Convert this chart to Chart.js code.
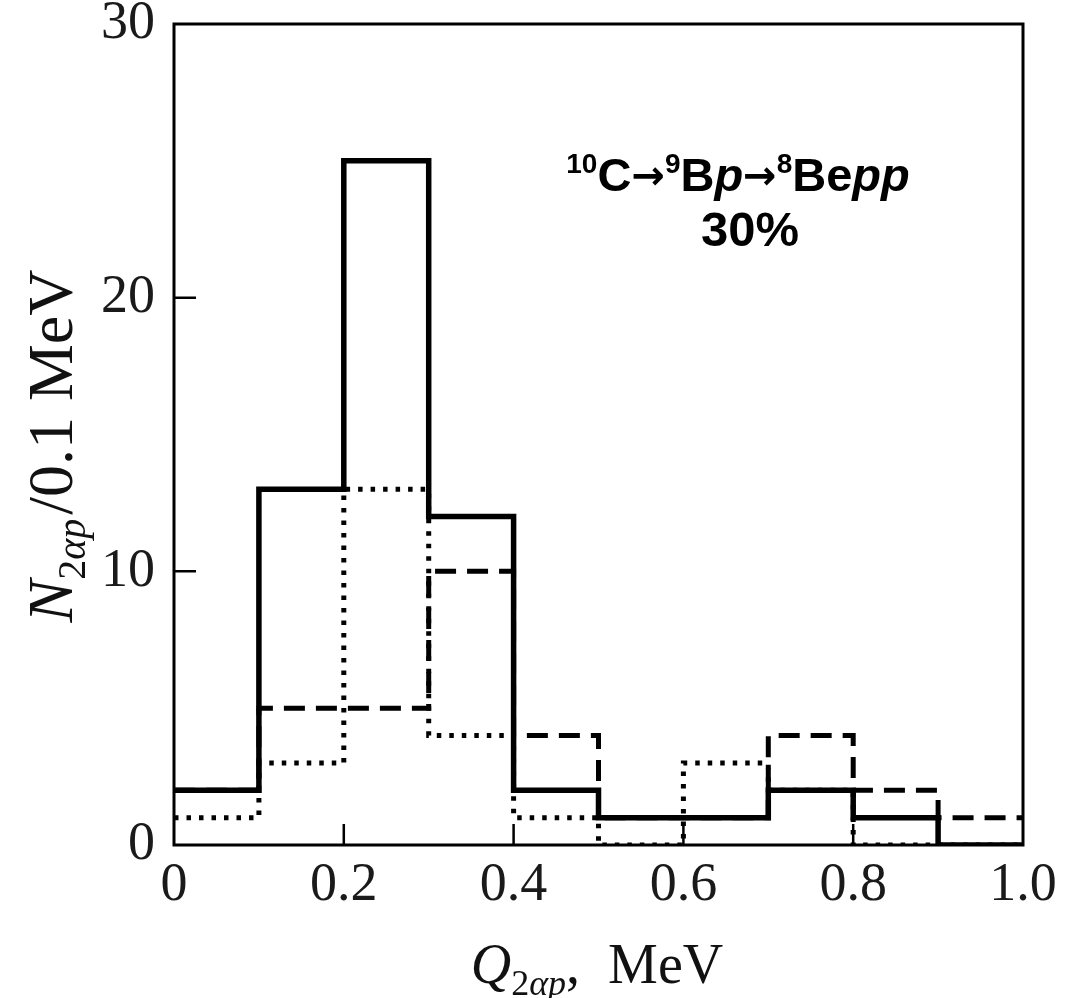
<!DOCTYPE html>
<html>
<head>
<meta charset="utf-8">
<script src="https://cdn.jsdelivr.net/npm/chart.js@4.4.1/dist/chart.umd.min.js"></script>
<style>
  html, body { margin: 0; padding: 0; background: #fff; }
  canvas { display: block; }
</style>
</head>
<body>
<canvas id="myChart" width="1073" height="998"></canvas>
<script>
// bin edges in MeV (last one closes the final bin)
var binEdges = [0, 0.1, 0.2, 0.3, 0.4, 0.5, 0.6, 0.7, 0.8, 0.9, 1.0];
// counts per 0.1 MeV bin
var solidCounts  = [2, 13, 25, 12, 2, 1, 1, 2, 1, 0];
var dashedCounts = [2, 5, 5, 10, 4, 1, 1, 4, 2, 1];
var dottedCounts = [1, 3, 13, 4, 1, 0, 3, 2, 0, 0];
var xTickLabels = ['0', '0.2', '0.4', '0.6', '0.8', '1.0'];
var yTickLabels = ['0', '10', '20', '30'];

var serif = "'Liberation Serif', 'DejaVu Serif', serif";
var sans = "'Liberation Sans', Arial, sans-serif";
var arrowFont = "'DejaVu Sans', sans-serif";

// histogram steps: value of a bin holds until the next edge
function stepData(counts) {
  return binEdges.map(function(e, i) {
    return { x: e, y: counts[Math.min(i, counts.length - 1)] };
  });
}

// draw a row of text pieces (sub/superscripts, italics) centred on x
function drawRuns(ctx, runs, x, y) {
  var total = 0;
  runs.forEach(function(r) {
    ctx.font = r.font;
    r.w = ctx.measureText(r.text).width;
    total += r.w + (r.gap || 0);
  });
  var cx = x - total / 2;
  runs.forEach(function(r) {
    ctx.font = r.font;
    ctx.fillText(r.text, cx, y + (r.dy || 0));
    cx += r.w + (r.gap || 0);
  });
}

var framePlugin = {
  id: 'frame',
  afterDraw: function(chart) {
    var ctx = chart.ctx, a = chart.chartArea;
    var xs = chart.scales.x, ys = chart.scales.y;
    ctx.save();
    ctx.strokeStyle = '#000';
    ctx.lineWidth = 3;
    ctx.strokeRect(a.left, a.top, a.right - a.left, a.bottom - a.top);

    // inward tick marks
    ctx.lineWidth = 2.5;
    ctx.beginPath();
    xs.ticks.forEach(function(t, i) {
      if (i === 0 || i === xs.ticks.length - 1) return;
      var px = xs.getPixelForValue(t.value);
      ctx.moveTo(px, a.bottom);
      ctx.lineTo(px, a.bottom - 21);
    });
    ys.ticks.forEach(function(t, i) {
      if (i === 0 || i === ys.ticks.length - 1) return;
      var py = ys.getPixelForValue(t.value);
      ctx.moveTo(a.left, py);
      ctx.lineTo(a.left + 22, py);
    });
    ctx.stroke();

    ctx.fillStyle = '#111';
    ctx.textBaseline = 'alphabetic';
    ctx.textAlign = 'left';

    // x axis title
    drawRuns(ctx, [
      { text: 'Q', font: 'italic 56px ' + serif },
      { text: '2', font: '36px ' + serif, dy: 12 },
      { text: '\u03b1p', font: 'italic 36px ' + serif, dy: 12 },
      { text: ',  MeV', font: '56px ' + serif }
    ], 597, 983);

    // y axis title (rotated)
    ctx.save();
    ctx.translate(72, 446);
    ctx.rotate(-Math.PI / 2);
    drawRuns(ctx, [
      { text: 'N', font: 'italic 64px ' + serif },
      { text: '2', font: '40px ' + serif, dy: 13 },
      { text: '\u03b1p', font: 'italic 40px ' + serif, dy: 13, gap: 4 },
      { text: '/0.1 MeV', font: '64px ' + serif }
    ], 0, 0);
    ctx.restore();

    // annotation
    ctx.fillStyle = '#000';
    drawRuns(ctx, [
      { text: '10', font: 'bold 28px ' + sans, dy: -18 },
      { text: 'C', font: 'bold 47px ' + sans },
      { text: '\u2192', font: 'bold 40px ' + arrowFont, dy: -2 },
      { text: '9', font: 'bold 28px ' + sans, dy: -18 },
      { text: 'B', font: 'bold 47px ' + sans },
      { text: 'p', font: 'italic bold 47px ' + sans },
      { text: '\u2192', font: 'bold 40px ' + arrowFont, dy: -2 },
      { text: '8', font: 'bold 28px ' + sans, dy: -18 },
      { text: 'Be', font: 'bold 47px ' + sans },
      { text: 'pp', font: 'italic bold 47px ' + sans }
    ], 738, 191);
    drawRuns(ctx, [{ text: '30%', font: 'bold 49px ' + sans }], 750, 246);
    ctx.restore();
  }
};

var ctx = document.getElementById('myChart').getContext('2d');
var myChart = new Chart(ctx, {
  type: 'line',
  data: {
    datasets: [{
      label: 'solid',
      data: stepData(solidCounts),
      stepped: 'before',
      borderColor: '#000',
      borderWidth: 5.5,
      pointRadius: 0,
      fill: false
    }, {
      label: 'dashed',
      data: stepData(dashedCounts),
      stepped: 'before',
      borderColor: '#000',
      borderWidth: 5,
      borderDash: [21, 11],
      pointRadius: 0,
      fill: false
    }, {
      label: 'dotted',
      data: stepData(dottedCounts),
      stepped: 'before',
      borderColor: '#000',
      borderWidth: 5,
      borderDash: [4.5, 8],
      pointRadius: 0,
      fill: false
    }]
  },
  options: {
    responsive: false,
    animation: false,
    devicePixelRatio: 1,
    layout: { padding: { left: 0, top: 24, right: 50, bottom: 0 } },
    plugins: { legend: { display: false }, tooltip: { enabled: false } },
    scales: {
      x: {
        type: 'linear',
        min: 0,
        max: 1,
        border: { display: false },
        grid: { display: false, drawTicks: false },
        ticks: {
          stepSize: 0.2,
          autoSkip: false,
          maxRotation: 0,
          padding: 8,
          color: '#1a1a1a',
          font: { family: serif, size: 54 },
          callback: function(v, i) { return xTickLabels[i]; }
        },
        afterFit: function(s) {
          s.height = 153;
          s.paddingLeft = 0;
          s.paddingRight = 0;
        }
      },
      y: {
        min: 0,
        max: 30,
        border: { display: false },
        grid: { display: false, drawTicks: false },
        ticks: {
          stepSize: 10,
          padding: 19,
          color: '#1a1a1a',
          font: { family: serif, size: 54 },
          callback: function(v, i) { return yTickLabels[i]; }
        },
        afterFit: function(s) {
          s.width = 174;
          s.paddingTop = 0;
          s.paddingBottom = 0;
        }
      }
    }
  },
  plugins: [framePlugin]
});
</script>
</body>
</html>
